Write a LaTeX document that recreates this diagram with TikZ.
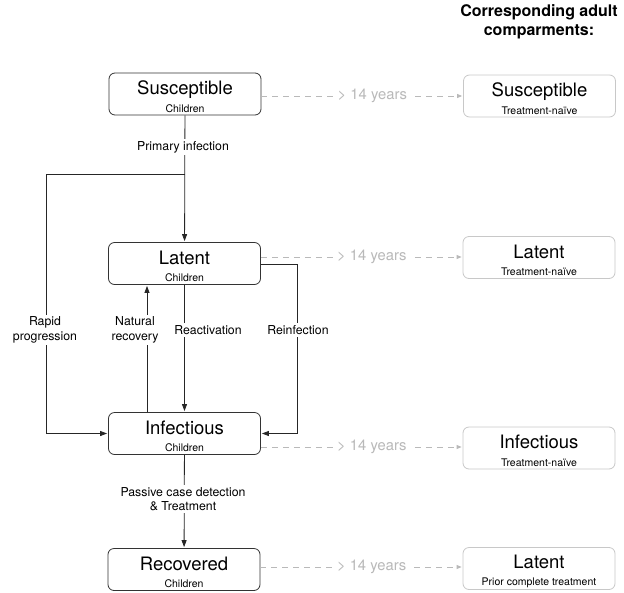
\documentclass[tikz,border=0pt]{standalone}
\usepackage{fontspec}
\setmainfont{TeX Gyre Heros}
\usepackage{tikz}
\usetikzlibrary{arrows.meta}

\definecolor{boxgray}{RGB}{200,200,200}
\definecolor{agegray}{RGB}{185,185,185}

\newcommand{\comp}[2]{{\fontsize{18.5}{18}\selectfont\rule{0pt}{19pt}#1}\\[5.5pt]{\fontsize{10.5}{12}\selectfont #2}}

\begin{document}
\begin{tikzpicture}[x=1pt,y=-1pt,shorten >=1pt,-]
            \tikzstyle{child}=[rectangle,rounded corners=6pt,draw=black!80,line width=0.8pt,fill=white,minimum width=152pt,minimum height=42pt,inner sep=0pt,align=center]
            \tikzstyle{adult}=[child,draw=boxgray]
            \tikzstyle{flow}=[draw=black!85,line width=0.8pt,-{Triangle[length=7pt,width=5pt]}]
            \tikzstyle{age}=[draw=agegray,line width=0.8pt,dashed,dash pattern=on 6pt off 5pt,-{Triangle[length=5pt,width=4pt]}]
            \tikzstyle{lbl}=[fill=white,inner sep=2pt,align=center,font=\fontsize{12.3}{14.7}\selectfont]
            \tikzstyle{agelbl}=[fill=white,inner sep=4pt,text=agegray,font=\fontsize{14.8}{16}\selectfont]
            \useasboundingbox (0,0) rectangle (624,592);

                % children
                \node[child] (C-1) at (185, 94){\comp{Susceptible}{Children}};
                \node[child] (C-2) at (184.5, 263.5){\comp{Latent}{Children}};
                \node[child] (C-3) at (184.5, 433.5){\comp{Infectious}{Children}};
                \node[child] (C-4) at (184, 569.5){\comp{Recovered}{Children}};

                % adults
                \node[align=center,font=\bfseries\fontsize{16}{19}\selectfont] (head) at (539, 22){Corresponding adult\\comparments:};
                \node[adult] (A-1) at (539.5, 96){\comp{Susceptible}{Treatment-naïve}};
                \node[adult] (A-2) at (539, 257.5){\comp{Latent}{Treatment-naïve}};
                \node[adult] (A-3) at (539, 448){\comp{Infectious}{Treatment-naïve}};
                \node[adult] (A-4) at (539, 568.5){\comp{Latent}{Prior complete treatment}};

                \coordinate (J) at (184.5, 174);
                \coordinate (R) at (46, 174);

                \draw[flow] (C-1) -- (C-2);
                \draw[flow] (J) -- (R) |- (C-3.west);
                \draw[flow] (C-2.east) ++(0,1) -- ++(36,0) |- (C-3.east);
                \draw[flow] (C-2) -- (C-3);
                \draw[flow] ([xshift=-37.5]C-3.north) -- ([xshift=-37.5]C-2.south);
                \draw[flow] (C-3) -- (C-4);

                \node[lbl] (l-prim) at (183, 147){Primary infection};
                \node[lbl] (l-rapid) at (45, 330){Rapid\\progression};
                \node[lbl] (l-nat) at (135, 330){Natural\\recovery};
                \node[lbl] (l-react) at (208, 330){Reactivation};
                \node[lbl] (l-reinf) at (298, 330){Reinfection};
                \node[lbl] (l-pass) at (183, 499){Passive case detection\\\& Treatment};

                \foreach \i/\dy in {1/-2, 2/6.5, 3/-13.5, 4/2.5}
                    \draw[age] ([yshift=\dy]C-\i.east) -- ([yshift=\dy]C-\i.east -| A-\i.west)
                        node[agelbl,pos=0.55]{\textgreater{} 14 years};
        \end{tikzpicture}
\end{document}
